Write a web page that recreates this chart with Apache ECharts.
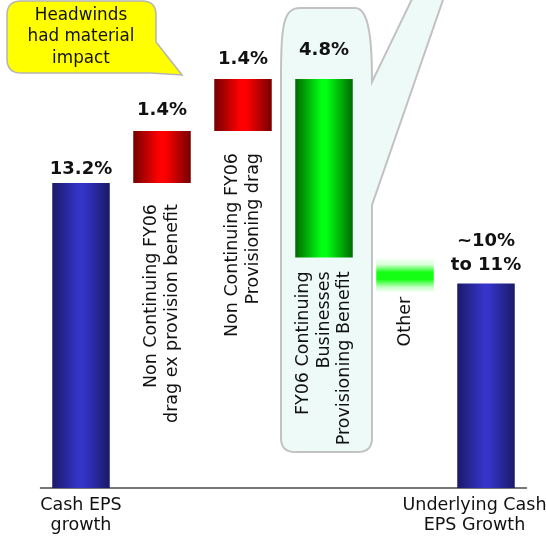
<!DOCTYPE html>
<html>
<head>
<meta charset="utf-8">
<script src="https://cdn.jsdelivr.net/npm/echarts@6/dist/echarts.min.js"></script>
<style>
  html, body { margin: 0; padding: 0; background: #ffffff; }
  #chart { width: 546px; height: 536px; }
</style>
</head>
<body>
<div id="chart"></div>
<script>
// Cash EPS growth bridge: starting growth, the intermediate steps and the outcome
const categories = [
  'Cash EPS\ngrowth',
  'Non Continuing FY06\ndrag ex provision benefit',
  'Non Continuing FY06\nProvisioning drag',
  'FY06 Continuing\nBusinesses\nProvisioning Benefit',
  'Other',
  'Underlying Cash\nEPS Growth'
];
const startGrowth = 13.2;                    // % cash EPS growth
const stepChanges = [1.4, 1.4, -4.8, -0.95]; // % points, one per bridge step
const endGrowth = 10.5;                      // mid point of ~10% to 11%
const valueLabels = ['13.2%', '1.4%', '1.4%', '4.8%', '', '~10%\nto 11%'];
const axisLabelShown = [true, false, false, false, false, true];

const FONT = 'DejaVu Sans';

function hGrad(edge, mid) {
  return {
    type: 'linear', x: 0, y: 0, x2: 1, y2: 0,
    colorStops: [
      { offset: 0, color: edge },
      { offset: 0.45, color: mid },
      { offset: 0.55, color: mid },
      { offset: 1, color: edge }
    ]
  };
}
const blueFill = hGrad('#1a1a68', '#3434c8');
const redFill = hGrad('#760000', '#ff0000');
const greenFill = hGrad('#006a00', '#00ff12');
const glowFill = {
  type: 'linear', x: 0, y: 0, x2: 0, y2: 1,
  colorStops: [
    { offset: 0, color: '#ffffff' },
    { offset: 0.2, color: '#d8ffd8' },
    { offset: 0.42, color: '#14ff14' },
    { offset: 0.62, color: '#14ff14' },
    { offset: 0.85, color: '#c8ffc8' },
    { offset: 1, color: '#ffffff' }
  ]
};

// floating segments: low/high of every bar
const lows = [], highs = [], fills = [];
let level = startGrowth;
lows.push(0); highs.push(startGrowth); fills.push(blueFill);
stepChanges.forEach(function (c, i) {
  const next = level + c;
  lows.push(Math.min(level, next));
  highs.push(Math.max(level, next));
  fills.push(i < 2 ? redFill : (i === 2 ? greenFill : glowFill));
  level = next;
});
lows.push(0); highs.push(endGrowth); fills.push(blueFill);

const valueLabelGap = [4.5, 12, 10.5, 19.5, 0, 6.5];
const nameLabelGap = [0, 21, 22, 14, 4, 0];

const baseData = lows.map(function (v, i) {
  const showName = !axisLabelShown[i];
  return {
    value: v,
    label: {
      show: showName,
      formatter: categories[i],
      position: 'insideTop',
      distance: nameLabelGap[i],
      rotate: 90,
      align: 'right',
      verticalAlign: 'middle',
      fontFamily: FONT,
      fontSize: 17.5,
      lineHeight: 20.5,
      color: '#111111'
    }
  };
});

const barData = highs.map(function (h, i) {
  return {
    value: +(h - lows[i]).toFixed(4),
    itemStyle: { color: fills[i] },
    label: {
      show: valueLabels[i] !== '',
      formatter: valueLabels[i],
      position: 'top',
      distance: valueLabelGap[i],
      fontFamily: FONT,
      fontWeight: 'bold',
      fontSize: 18,
      lineHeight: i === 5 ? 24 : 18,
      color: '#111111'
    }
  };
});

// outline helpers for the two speech-bubble callouts
function quadPts(p0, c, p1, n) {
  const out = [];
  for (let k = 1; k <= n; k++) {
    const t = k / n, u = 1 - t;
    out.push([u * u * p0[0] + 2 * u * t * c[0] + t * t * p1[0],
              u * u * p0[1] + 2 * u * t * c[1] + t * t * p1[1]]);
  }
  return out;
}
function cubicPts(p0, c1, c2, p1, n) {
  const out = [];
  for (let k = 1; k <= n; k++) {
    const t = k / n, u = 1 - t;
    out.push([
      u * u * u * p0[0] + 3 * u * u * t * c1[0] + 3 * u * t * t * c2[0] + t * t * t * p1[0],
      u * u * u * p0[1] + 3 * u * u * t * c1[1] + 3 * u * t * t * c2[1] + t * t * t * p1[1]
    ]);
  }
  return out;
}

const bubbleTall = [].concat(
  [[300, 8], [355, 8]],
  cubicPts([355, 8], [369, 8], [372, 40], [372, 82], 16),
  [[413, -3], [444, -3], [372, 205], [372, 438]],
  quadPts([372, 438], [372, 452], [358, 452], 8),
  [[295, 452]],
  quadPts([295, 452], [281, 452], [281, 438], 8),
  [[281, 80]],
  cubicPts([281, 80], [281, 26], [283, 8], [300, 8], 16)
);

const bubbleNote = [].concat(
  [[21, 1], [142, 1]],
  quadPts([142, 1], [156, 1], [156, 15], 8),
  [[156, 42], [182, 75], [150, 73], [21, 73]],
  quadPts([21, 73], [7, 73], [7, 59], 8),
  [[7, 15]],
  quadPts([7, 15], [7, 1], [21, 1], 8)
);

const chart = echarts.init(document.getElementById('chart'), null, { renderer: 'canvas' });

chart.setOption({
  animation: false,
  backgroundColor: '#ffffff',
  grid: {
    left: 40.5, right: 19.5, top: 4.6, bottom: 48,
    containLabel: false,
    outerBoundsMode: 'none'
  },
  xAxis: {
    type: 'category',
    data: categories.map(function (c, i) {
      return i === categories.length - 1
        ? { value: c, textStyle: { padding: [0, 23, 0, 0] } }
        : { value: c };
    }),
    axisTick: { show: false },
    axisLine: { show: true, lineStyle: { color: '#4a4a4a', width: 1.5 } },
    axisLabel: {
      interval: 0,
      margin: 8,
      hideOverlap: false,
      fontFamily: FONT,
      fontSize: 17.5,
      lineHeight: 19.5,
      color: '#111111',
      formatter: function (v, i) { return axisLabelShown[i] ? v : ''; }
    }
  },
  yAxis: {
    type: 'value',
    min: 5,
    max: 18,
    show: false,
    splitLine: { show: false }
  },
  series: [
    {
      type: 'bar',
      stack: 'bridge',
      barWidth: 57.5,
      itemStyle: { color: 'rgba(0,0,0,0)' },
      data: baseData,
      z: 3
    },
    {
      type: 'bar',
      stack: 'bridge',
      barWidth: 57.5,
      data: barData,
      z: 3
    }
  ],
  graphic: [
    {
      type: 'polygon',
      z: 0,
      shape: { points: bubbleTall },
      style: { fill: '#eefaf7', stroke: '#c2c2c2', lineWidth: 2 }
    },
    {
      type: 'polygon',
      z: 0,
      shape: { points: bubbleNote },
      style: { fill: '#ffff00', stroke: '#b4b4b4', lineWidth: 1.5 }
    },
    {
      type: 'text',
      z: 1,
      x: 81,
      y: 37,
      style: {
        text: 'Headwinds\nhad material\nimpact',
        align: 'center',
        verticalAlign: 'middle',
        fontFamily: FONT,
        fontSize: 16.8,
        lineHeight: 21.5,
        fill: '#111111'
      }
    }
  ]
});
</script>
</body>
</html>
